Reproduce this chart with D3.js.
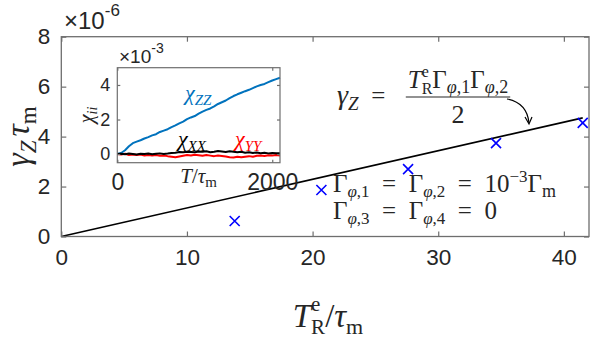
<!DOCTYPE html>
<html><head><meta charset="utf-8">
<script src="https://cdn.jsdelivr.net/npm/d3@7"></script>
<style>html,body{margin:0;padding:0;background:#fff;}svg{display:block;}</style>
</head><body>
<svg id="c" width="598" height="342"></svg>
<script>
// ---------- data ----------
const mainXTicks = [0, 10, 20, 30, 40];
const mainYTicks = [0, 2, 4, 6, 8];
const pointsX = [13.8, 20.7, 27.6, 34.6, 41.5];          // T_R^e / tau_m
const pointsY = [0.62, 1.86, 2.70, 3.74, 4.55];          // gamma_Z tau_m (x1e-6)
const fitX = [0, 41.5];
const fitY = [0, 4.75];

const insetXTicks = [0, 2000];
const insetYTicks = [0, 2, 4];
const insetT = [0,50,100,150,200,250,300,350,400,450,500,550,600,650,700,750,800,850,900,950,1000,
  1050,1100,1150,1200,1250,1300,1350,1400,1450,1500,1550,1600,1650,1700,1750,1800,1850,1900,1950,2000,2050,2100];
const chiZZ = [0.00,0.06,0.22,0.45,0.63,0.72,0.80,0.90,0.98,1.08,1.15,1.28,1.36,1.44,1.56,1.66,1.78,1.88,2.02,2.12,2.20,
  2.34,2.46,2.56,2.64,2.76,2.90,3.00,3.10,3.24,3.36,3.46,3.55,3.64,3.72,3.82,3.92,4.00,4.06,4.16,4.26,4.34,4.42];
const chiXX = [0.00,0.02,-0.01,0.03,0.01,-0.02,0.02,0.00,0.03,-0.01,0.02,0.04,0.01,0.03,0.06,0.08,0.12,0.10,0.14,0.12,0.10,
  0.15,0.13,0.16,0.11,0.14,0.18,0.15,0.12,0.16,0.14,0.10,0.13,0.08,0.10,0.06,0.09,0.05,0.07,0.04,0.06,0.05,0.05];
const chiYY = [0.00,-0.03,0.02,-0.05,-0.02,-0.06,-0.03,-0.08,-0.05,-0.09,-0.06,-0.10,-0.08,-0.12,-0.15,-0.18,-0.14,-0.10,-0.06,-0.08,-0.04,
  -0.07,-0.10,-0.06,-0.09,-0.12,-0.08,-0.11,-0.14,-0.18,-0.20,-0.16,-0.19,-0.15,-0.12,-0.16,-0.10,-0.08,-0.11,-0.07,-0.09,-0.06,-0.08];

// ---------- helpers ----------
const svg = d3.select('#c');
svg.append('rect').attr('width',598).attr('height',342).attr('fill','#fff');
const SANS = "'Liberation Sans', Arial, sans-serif";
const SERIF = "'Liberation Serif', 'Times New Roman', serif";
const AX = '#262626', AXL = '#6e6e6e';
const EQ = '\u2002=\u2002';

// pieces: [text, size, dy, italic, stackWithNext]
function math(parent, x, y, pieces, anchor, fill, transform) {
  const outer = parent.append('g').attr('transform', transform || `translate(${x},${y})`);
  const g = outer.append('g').attr('font-family', SERIF).attr('fill', fill || AX);
  let cx = 0, stackW = null, stackX = 0;
  pieces.forEach(p => {
    const [t, fs, dy, it, stack] = p;
    const px = stackW !== null ? stackX : cx;
    const el = g.append('text').attr('x', px).attr('y', dy).attr('font-size', fs)
      .attr('font-style', it ? 'italic' : 'normal').text(t);
    const w = el.node().getComputedTextLength();
    if (stack) { stackX = cx; stackW = w; }
    else if (stackW !== null) { cx = stackX + Math.max(stackW, w); stackW = null; }
    else cx += w;
  });
  const shift = anchor === 'middle' ? -cx / 2 : anchor === 'end' ? -cx : 0;
  g.attr('transform', `translate(${shift},0)`);
  return cx;
}

// ---------- main axes ----------
const M = {l: 61.3, r: 589, t: 36.7, b: 236.5};
const x = d3.scaleLinear().domain([0, 42]).range([M.l, M.r]);
const y = d3.scaleLinear().domain([0, 8]).range([M.b, M.t]);
const tl = 5;

const main = svg.append('g');
main.append('path').attr('d', d3.line().x((d,i)=>x(fitX[i])).y((d,i)=>y(fitY[i]))(fitX))
  .attr('fill','none').attr('stroke','#000').attr('stroke-width',1.6);
const ms = 5;
pointsX.forEach((px, i) => {
  const cx = x(px), cy = y(pointsY[i]);
  main.append('path').attr('d', `M${cx-ms},${cy-ms}L${cx+ms},${cy+ms}M${cx-ms},${cy+ms}L${cx+ms},${cy-ms}`)
    .attr('stroke','#0000ff').attr('stroke-width',1.6).attr('fill','none');
});

const xAxB = d3.axisBottom(x).tickValues(mainXTicks).tickSize(-tl).tickPadding(13).tickFormat(d3.format('d'));
const xAxT = d3.axisTop(x).tickValues(mainXTicks).tickSize(-tl).tickFormat('');
const yAxL = d3.axisLeft(y).tickValues(mainYTicks).tickSize(-tl).tickPadding(11).tickFormat(d3.format('d'));
const yAxR = d3.axisRight(y).tickValues(mainYTicks).tickSize(-tl).tickFormat('');
function styleAxis(sel, fs) {
  sel.select('.domain').remove();
  sel.selectAll('line').attr('stroke', AXL).attr('stroke-width', 1.2);
  sel.selectAll('text').attr('font-family', SANS).attr('font-size', fs).attr('fill', AX);
}
main.append('g').attr('transform',`translate(0,${M.b})`).call(xAxB).call(s=>styleAxis(s,22.5));
main.append('g').attr('transform',`translate(0,${M.t})`).call(xAxT).call(s=>styleAxis(s,22));
main.append('g').attr('transform',`translate(${M.l},0)`).call(yAxL).call(s=>styleAxis(s,22.5));
main.append('g').attr('transform',`translate(${M.r},0)`).call(yAxR).call(s=>styleAxis(s,22));
main.append('rect').attr('x',M.l).attr('y',M.t).attr('width',M.r-M.l).attr('height',M.b-M.t)
  .attr('fill','none').attr('stroke',AXL).attr('stroke-width',1.3);

// exponent label
const ex = svg.append('text').attr('x', 64).attr('y', 29).attr('font-family', SANS).attr('fill', AX).attr('font-size', 24);
ex.append('tspan').text('\u00d710');
ex.append('tspan').attr('font-size', 17).attr('dy', -13).text('-6');

// axis labels
math(svg, 0, 0, [['γ',34,0,true],['Z',23,7,true],['\u2009',20,0,false],['τ',34,0,true],['m',23,7,false]], 'middle', AX,
  `translate(29,${(M.t+M.b)/2}) rotate(-90)`);
math(svg, 328, 327, [['T',33,0,true],['e',21,-16,false,true],['R',21,7,false],['/',33,0,false],['τ',33,0,true],['m',22,7,false]], 'middle', AX);

// formula
math(svg, 337, 104, [['γ',28,0,true],['Z',19,6,true],[EQ,25,0,false]], 'start', AX);
const numW = math(svg, 458, 88, [['T',25,0,true],['e',16,-11,false,true],['R',16,6,false],['Γ',25,0,false],['φ',18,5,true],[',1',18,5,false],['Γ',25,0,false],['φ',18,5,true],[',2',18,5,false]], 'middle', AX);
svg.append('line').attr('x1', 458-numW/2-2).attr('x2', 458+numW/2+2).attr('y1', 97).attr('y2', 97)
  .attr('stroke', AX).attr('stroke-width', 1.2);
math(svg, 458, 123, [['2',26,0,false]], 'middle', AX);
// arrow
svg.append('path').attr('d','M507,99 Q527,103 529,123').attr('fill','none').attr('stroke','#000').attr('stroke-width',1.2);
svg.append('path').attr('d','M525,117 L529,124 L532,117').attr('fill','none').attr('stroke','#000').attr('stroke-width',1.2);

// parameter text
math(svg, 333, 192, [['Γ',25,0,false],['φ',17,5,true],[',1',17,5,false],[EQ,25,0,false],['Γ',25,0,false],['φ',17,5,true],[',2',17,5,false],
  [EQ+'10',25,0,false],['−3',17,-10,false],['Γ',25,0,false],['m',18,5,false]], 'start', AX);
math(svg, 333, 219, [['Γ',25,0,false],['φ',17,5,true],[',3',17,5,false],[EQ,25,0,false],['Γ',25,0,false],['φ',17,5,true],[',4',17,5,false],
  [EQ+'0',25,0,false]], 'start', AX);

// ---------- inset ----------
const I = {l: 117.3, r: 280, t: 67.7, b: 162.7};
const ix = d3.scaleLinear().domain([0, 2100]).range([I.l, I.r]);
const iy = d3.scaleLinear().domain([-0.5, 5]).range([I.b, I.t]);
const inset = svg.append('g');
inset.append('rect').attr('x',I.l).attr('y',I.t).attr('width',I.r-I.l).attr('height',I.b-I.t).attr('fill','#fff');
const il = d3.line().x((d,i)=>ix(insetT[i])).y(d=>iy(d));
[[chiZZ,'#0072BD'],[chiYY,'#ff0000'],[chiXX,'#000000']].forEach(([arr,c]) => {
  inset.append('path').attr('d', il(arr)).attr('fill','none').attr('stroke',c).attr('stroke-width',2).attr('stroke-linejoin','round');
});
const itl = 3;
inset.append('g').attr('transform',`translate(0,${I.b})`)
  .call(d3.axisBottom(ix).tickValues(insetXTicks).tickSize(-itl).tickPadding(11).tickFormat(d3.format('d'))).call(s=>styleAxis(s,23));
inset.append('g').attr('transform',`translate(0,${I.t})`)
  .call(d3.axisTop(ix).tickValues(insetXTicks).tickSize(-itl).tickFormat('')).call(s=>styleAxis(s,18));
inset.append('g').attr('transform',`translate(${I.l},0)`)
  .call(d3.axisLeft(iy).tickValues(insetYTicks).tickSize(-itl).tickPadding(7).tickFormat(d3.format('d'))).call(s=>styleAxis(s,18));
inset.append('g').attr('transform',`translate(${I.r},0)`)
  .call(d3.axisRight(iy).tickValues(insetYTicks).tickSize(-itl).tickFormat('')).call(s=>styleAxis(s,18));
inset.append('rect').attr('x',I.l).attr('y',I.t).attr('width',I.r-I.l).attr('height',I.b-I.t)
  .attr('fill','none').attr('stroke',AXL).attr('stroke-width',1.2);
const ex2 = svg.append('text').attr('x', 119).attr('y', 63).attr('font-family', SANS).attr('fill', AX).attr('font-size', 19);
ex2.append('tspan').text('\u00d710');
ex2.append('tspan').attr('font-size', 14).attr('dy', -10).text('-3');

math(svg, 0, 0, [['χ',20,0,true],['ii',14,4,true]], 'middle', AX, `translate(93,115) rotate(-90)`);
math(svg, (I.l+I.r)/2, 183, [['T',21,0,true],['/',21,0,false],['τ',21,0,true],['m',15,4,false]], 'middle', AX);
math(svg, 185, 100, [['χ',22,0,true],['ZZ',15,5,true]], 'start', '#0072BD');
math(svg, 178, 146, [['χ',22,0,true],['XX',15,5,true]], 'start', '#000');
math(svg, 235, 146, [['χ',22,0,true],['YY',15,5,true]], 'start', '#ff0000');
</script>
</body></html>
